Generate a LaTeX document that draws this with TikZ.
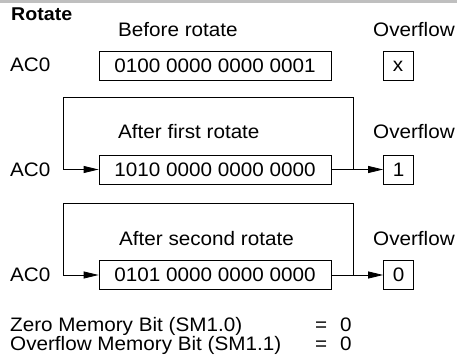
\documentclass[tikz,border=0pt]{standalone}
\usepackage{fontspec}
\setmainfont{Liberation Sans}[FakeStretch=1.06]
\usetikzlibrary{arrows.meta}

\begin{document}
\begin{tikzpicture}[
    x=1pt, y=-1pt,
    font=\fontsize{19.5}{19.5}\selectfont,
    reg/.style={rectangle, draw, line width=0.8pt, minimum width=232pt, minimum height=29pt, inner sep=0pt},
    flag/.style={rectangle, draw, line width=0.8pt, minimum width=30pt, minimum height=29pt, inner sep=0pt},
    lbl/.style={anchor=base west, inner sep=0pt},
    flow/.style={-{Triangle[length=15pt, width=7pt]}, line width=0.8pt}
]
\useasboundingbox (0,0) rectangle (457,358);

% Top bar
\fill[black!25] (0,0) rectangle (457,3);
\node[lbl, font=\fontsize{18.5}{18.5}\selectfont\bfseries] (title) at (11, 21) {Rotate};

% Before rotate
\node[lbl] (h1) at (118, 37) {Before rotate};
\node[lbl] (o1) at (373, 37) {Overflow};
\node[lbl] (a1) at (10, 72) {AC0};
\node[reg] (b1) at (215, 65.5) {0100 0000 0000 0001};
\node[flag] (f1) at (398, 66) {x};

% After first rotate
\node[lbl] (h2) at (118, 139) {After first rotate};
\node[lbl] (o2) at (373, 139) {Overflow};
\node[lbl] (a2) at (10, 176) {AC0};
\node[reg] (b2) at (215, 169.5) {1010 0000 0000 0000};
\node[flag] (f2) at (398.5, 169.5) {1};

% After second rotate
\node[lbl] (h3) at (119, 245) {After second rotate};
\node[lbl] (o3) at (373, 245) {Overflow};
\node[lbl] (a3) at (10, 281.5) {AC0};
\node[reg] (b3) at (215, 275) {0101 0000 0000 0000};
\node[flag] (f3) at (398.5, 275) {0};

% Rotate loops
\coordinate (j2) at (353, 169.5);
\coordinate (t2) at (63, 97);
\coordinate (j3) at (353, 275);
\coordinate (t3) at (63, 203);

\draw[flow] (b2.east) -- (f2.west);
\draw[flow] (j2) |- (t2) |- (b2.west);
\draw[flow] (b3.east) -- (f3.west);
\draw[flow] (j3) |- (t3) |- (b3.west);

% Memory bits
\node[lbl] (z1) at (10, 331) {Zero Memory Bit (SM1.0)};
\node[lbl] (z2) at (315, 331) {=};
\node[lbl] (z3) at (340, 331) {0};
\node[lbl] (v1) at (10, 350.5) {Overflow Memory Bit (SM1.1)};
\node[lbl] (v2) at (315, 350.5) {=};
\node[lbl] (v3) at (340, 350.5) {0};

\end{tikzpicture}
\end{document}
